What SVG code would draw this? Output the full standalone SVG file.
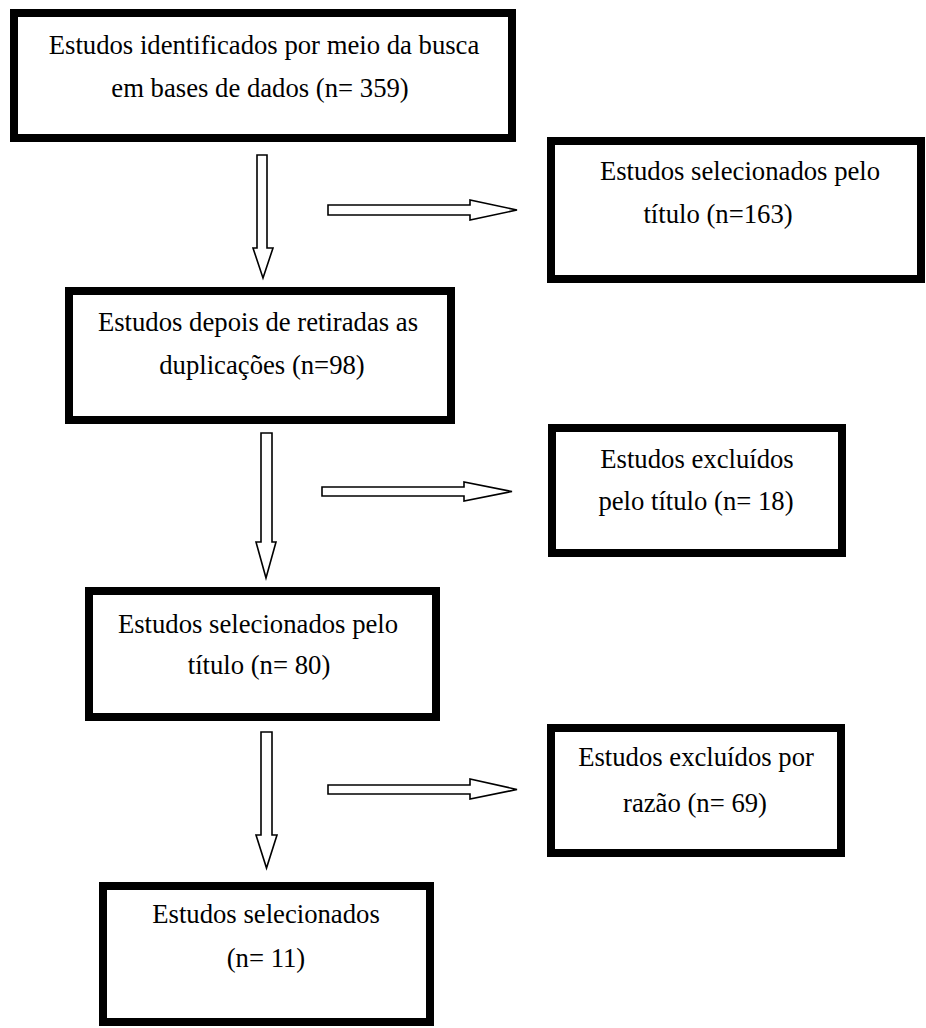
<svg xmlns="http://www.w3.org/2000/svg" width="926" height="1028" viewBox="0 0 926 1028">
<style>
.box{fill:#fff;stroke:#000;stroke-width:8}
.t{font-family:"Liberation Serif","Times New Roman",serif;font-size:26.7px;fill:#000;text-anchor:middle}
.arr{fill:#fff;stroke:#000;stroke-width:1.6;stroke-linejoin:miter}
</style>
<rect width="926" height="1028" fill="#fff"/>
<g id="connectors">
<path class="arr" d="M257,155 H267 V248 H273 L263,278 L253,248 H257 Z"/>
<path class="arr" d="M328,205 H470 V200 L517,210 L470,220 V215 H328 Z"/>
<path class="arr" d="M261,433 H272 V542 H276 L266,578 L256,542 H261 Z"/>
<path class="arr" d="M322,487 H464 V482 L512,491.5 L464,501 V496 H322 Z"/>
<path class="arr" d="M261,732 H272 V835 H277 L266.5,868 L256,835 H261 Z"/>
<path class="arr" d="M328,785 H470 V779 L517,789.5 L470,799 V794 H328 Z"/>
</g>
<g id="n1">
<rect class="box" x="14" y="13" width="498" height="125"/>
<text class="t" x="264" y="54">Estudos identificados por meio da busca</text>
<text class="t" x="260" y="97">em bases de dados (n= 359)</text>
</g>
<g id="n2">
<rect class="box" x="551" y="141" width="370" height="138"/>
<text class="t" x="740" y="180">Estudos selecionados pelo</text>
<text class="t" x="718" y="223">título (n=163)</text>
</g>
<g id="n3">
<rect class="box" x="69" y="291" width="382" height="129"/>
<text class="t" x="258" y="331">Estudos depois de retiradas as</text>
<text class="t" x="262" y="374">duplicações (n=98)</text>
</g>
<g id="n4">
<rect class="box" x="552" y="428" width="290" height="125"/>
<text class="t" x="697" y="468">Estudos excluídos</text>
<text class="t" x="696" y="510">pelo título (n= 18)</text>
</g>
<g id="n5">
<rect class="box" x="89" y="591" width="347" height="126"/>
<text class="t" x="258" y="633">Estudos selecionados pelo</text>
<text class="t" x="259" y="674">título (n= 80)</text>
</g>
<g id="n6">
<rect class="box" x="551" y="728" width="290" height="125"/>
<text class="t" x="696" y="766">Estudos excluídos por</text>
<text class="t" x="695" y="812">razão (n= 69)</text>
</g>
<g id="n7">
<rect class="box" x="103" y="886" width="327" height="136"/>
<text class="t" x="266" y="923">Estudos selecionados</text>
<text class="t" x="266" y="967">(n= 11)</text>
</g>
</svg>
